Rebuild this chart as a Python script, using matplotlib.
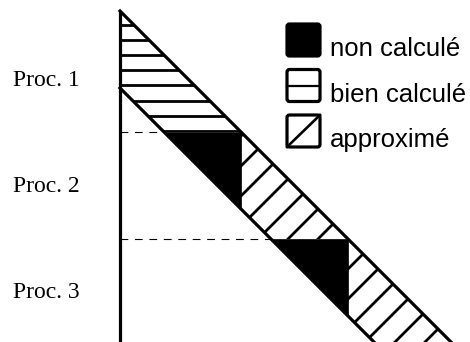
import matplotlib
matplotlib.use("Agg")
import matplotlib.pyplot as plt
from matplotlib.patches import Polygon, FancyBboxPatch

# band matrix split over 3 processors (row index goes down)
proc_labels = ["Proc. 1", "Proc. 2", "Proc. 3"]
proc_starts = [0, 121, 228]
proc_status = ["bien calculé", "approximé", "approximé"]
band_width = 77
n_rows = 420

legend_labels = ["non calculé", "bien calculé", "approximé"]

# layout
label_rows = [69, 176, 282]
lw_thick = 2.3
lw_hatch = 2.0

fig = plt.figure(figsize=(4.7, 3.42), dpi=100)
ax = fig.add_axes([0, 0, 1, 1])
ax.set_xlim(-120, 350)
ax.set_ylim(331, -11)
ax.axis("off")


def hatch_region(verts, kind):
    poly = Polygon(verts, closed=True, fill=False, lw=0)
    ax.add_patch(poly)
    if kind == "bien calculé":
        r = 14
        while r < n_rows:
            ln, = ax.plot([-50, n_rows], [r, r], color="black", lw=lw_hatch)
            ln.set_clip_path(poly)
            r += 15.1
    else:
        s = 6
        while s < 2 * n_rows:
            ln, = ax.plot([s + 50, s - n_rows], [-50, n_rows], color="black",
                          lw=lw_hatch)
            ln.set_clip_path(poly)
            s += 30


ends = proc_starts[1:] + [n_rows]
for i, (r0, r1) in enumerate(zip(proc_starts, ends)):
    if proc_status[i] == "bien calculé":
        verts = [(0, r0), (r1, r1), (r1 - band_width, r1), (0, r0 + band_width)]
        hatch_region(verts, proc_status[i])
    else:
        # black triangle: rows of block not yet computed
        tri = [(r0 - band_width, r0), (r0, r0), (r0, r0 + band_width)]
        ax.add_patch(Polygon(tri, closed=True, facecolor="black",
                             edgecolor="black", lw=0.5))
        verts = [(r0, r0), (r1, r1), (r1 - band_width, r1), (r0, r0 + band_width)]
        hatch_region(verts, proc_status[i])
        # dashed separator
        ax.plot([0, r0 - band_width], [r0, r0], color="black", lw=0.8,
                dashes=(7, 6))

# band outline
ax.plot([0, 0], [0, n_rows], color="black", lw=lw_thick, solid_capstyle="butt")
ax.plot([0, n_rows], [0, n_rows], color="black", lw=lw_thick)
ax.plot([0, n_rows], [band_width, n_rows + band_width], color="black", lw=lw_thick)

for lab, r in zip(proc_labels, label_rows):
    ax.text(-107, r, lab, family="Liberation Serif", fontsize=17,
            va="center", ha="left")

# legend
bx, bw, bh = 167, 33, 32
for k, lab in enumerate(legend_labels):
    top = 13 + 45.5 * k
    fc = "black" if k == 0 else "white"
    ax.add_patch(FancyBboxPatch((bx, top), bw, bh,
                                boxstyle="round,pad=0,rounding_size=2.5",
                                facecolor=fc, edgecolor="black", lw=lw_thick))
    if k == 1:
        ax.plot([bx, bx + bw], [top + bh / 2, top + bh / 2], color="black",
                lw=1.6)
    elif k == 2:
        ax.plot([bx, bx + bw], [top + bh, top], color="black", lw=1.9)
    ax.text(bx + 43, top + bh, lab, family="Liberation Sans", fontsize=18.5,
            va="baseline", ha="left")

fig.savefig("out.png", dpi=100)
